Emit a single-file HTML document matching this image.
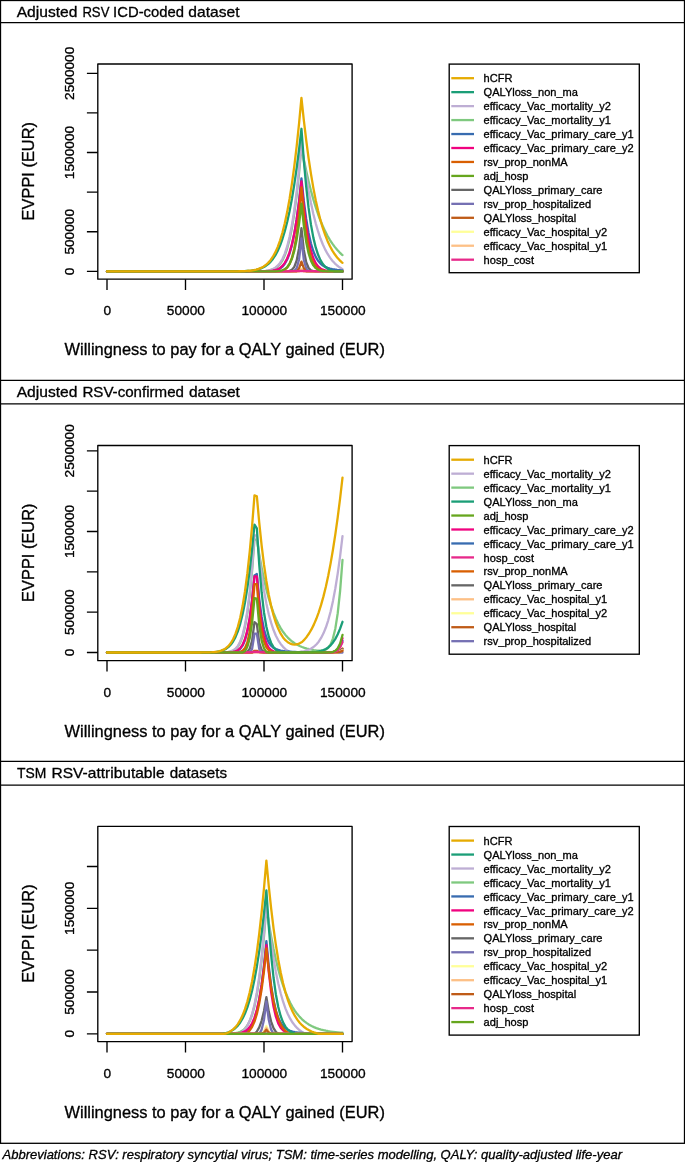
<!DOCTYPE html>
<html lang="en"><head><meta charset="utf-8"><title>EVPPI</title>
<style>html,body{margin:0;padding:0;background:#fff}body{width:685px;height:1162px;overflow:hidden;font-family:"Liberation Sans", sans-serif}svg{display:block;font-family:"Liberation Sans", sans-serif;will-change:transform;transform:translateZ(0)}text{fill:#000}.h{stroke:#000;stroke-width:.3px}.r text{stroke:#000;stroke-width:.32px;stroke-linejoin:round}</style>
</head><body>
<svg width="685" height="1162" viewBox="0 0 685 1162">
<rect width="685" height="1162" fill="#fff"/>
<text class="h" x="16.7" y="17" font-size="14.4" textLength="60.8" lengthAdjust="spacingAndGlyphs">Adjusted</text>
<text class="h" x="82.4" y="17" font-size="14.4" textLength="27" lengthAdjust="spacingAndGlyphs">RSV</text>
<text class="h" x="113.1" y="17" font-size="14.4" textLength="70.9" lengthAdjust="spacingAndGlyphs">ICD-coded</text>
<text class="h" x="188.3" y="17" font-size="14.4" textLength="51.2" lengthAdjust="spacingAndGlyphs">dataset</text>
<g fill="none" stroke-width="2.3" stroke-linejoin="round" stroke-linecap="round">
<path d="M107 271.4 L249.11 271.4 L251.49 271.39 L253.87 271.38 L256.25 271.36 L258.63 271.33 L261.01 271.27 L263.38 271.17 L265.76 270.99 L268.14 270.69 L270.52 270.21 L272.9 269.45 L275.28 268.29 L277.66 266.55 L280.04 264.01 L282.41 260.39 L284.79 255.37 L287.17 248.57 L289.55 239.57 L291.93 227.94 L294.31 213.25 L296.69 195.09 L299.07 173.1 L301.44 146.99 L303.82 159.44 L306.2 170.85 L308.58 181.28 L310.96 190.78 L313.34 199.4 L315.72 207.2 L318.1 214.25 L320.47 220.59 L322.85 226.29 L325.23 231.4 L327.61 235.96 L329.99 240.03 L332.37 243.66 L334.75 246.89 L337.13 249.76 L339.51 252.3 L341.88 254.56 L342.5 255.1" stroke="#7FC97F"/>
<path d="M107 271.4 L249.11 271.39 L251.49 271.39 L253.87 271.37 L256.25 271.35 L258.63 271.3 L261.01 271.22 L263.38 271.09 L265.76 270.87 L268.14 270.5 L270.52 269.93 L272.9 269.05 L275.28 267.72 L277.66 265.76 L280.04 262.96 L282.41 259.03 L284.79 253.66 L287.17 246.48 L289.55 237.08 L291.93 225.06 L294.31 210.01 L296.69 191.53 L299.07 169.29 L301.44 143.03 L303.82 160.78 L306.2 176.63 L308.58 190.69 L310.96 203.07 L313.34 213.91 L315.72 223.34 L318.1 231.49 L320.47 238.51 L322.85 244.52 L325.23 249.64 L327.61 253.99 L329.99 257.66 L332.37 260.75 L334.75 263.34 L337.13 265.51 L339.51 267.31 L341.88 268.81 L342.5 269.15" stroke="#BEAED4"/>
<path d="M107 271.4 L258.63 271.39 L261.01 271.39 L263.38 271.37 L265.76 271.33 L268.14 271.27 L270.52 271.13 L272.9 270.89 L275.28 270.47 L277.66 269.75 L280.04 268.56 L282.41 266.68 L284.79 263.8 L287.17 259.54 L289.55 253.47 L291.93 245.07 L294.31 233.82 L296.69 219.23 L299.07 200.83 L301.44 178.29 L303.82 200.95 L306.2 219.02 L308.58 233.02 L310.96 243.56 L313.34 251.3 L315.72 256.87 L318.1 260.82 L320.47 263.58 L322.85 265.52 L325.23 266.88 L327.61 267.85 L329.99 268.56 L332.37 269.09 L334.75 269.49 L337.13 269.81 L339.51 270.07 L341.88 270.28 L342.5 270.33" stroke="#386CB0"/>
<path d="M107 271.4 L256.25 271.39 L258.63 271.39 L261.01 271.37 L263.38 271.35 L265.76 271.29 L268.14 271.19 L270.52 271.02 L272.9 270.71 L275.28 270.18 L277.66 269.33 L280.04 267.98 L282.41 265.92 L284.79 262.87 L287.17 258.49 L289.55 252.39 L291.93 244.15 L294.31 233.33 L296.69 219.51 L299.07 202.31 L301.44 181.46 L303.82 206.4 L306.2 225.83 L308.58 240.4 L310.96 250.92 L313.34 258.27 L315.72 263.21 L318.1 266.43 L320.47 268.46 L322.85 269.7 L325.23 270.44 L327.61 270.87 L329.99 271.12 L332.37 271.25 L334.75 271.32 L337.13 271.36 L339.51 271.38 L341.88 271.39 L342.5 271.39" stroke="#F0027F"/>
<path d="M107 271.4 L268.14 271.4 L270.52 271.39 L272.9 271.38 L275.28 271.34 L277.66 271.25 L280.04 271.02 L282.41 270.53 L284.79 269.5 L287.17 267.53 L289.55 263.97 L291.93 257.95 L294.31 248.41 L296.69 234.18 L299.07 214.13 L301.44 187.41 L303.82 213.73 L306.2 233.41 L308.58 247.38 L310.96 256.83 L313.34 262.9 L315.72 266.64 L318.1 268.83 L320.47 270.06 L322.85 270.73 L325.23 271.07 L327.61 271.24 L329.99 271.33 L332.37 271.37 L334.75 271.39 L337.13 271.39 L342.5 271.4" stroke="#D95F02"/>
<path d="M107 271.4 L280.04 271.4 L282.41 271.39 L284.79 271.37 L287.17 271.27 L289.55 270.91 L291.93 269.78 L294.31 266.86 L296.69 260.42 L299.07 248.22 L301.44 228.21 L303.82 249.98 L306.2 262.21 L308.58 268.01 L310.96 270.33 L313.34 271.11 L315.72 271.33 L318.1 271.39 L320.47 271.4 L342.5 271.4" stroke="#666666"/>
<path d="M107 271.4 L287.17 271.4 L289.55 271.39 L291.93 271.33 L294.31 270.82 L296.69 268.24 L299.07 259.44 L301.44 238.44 L303.82 259.95 L306.2 268.51 L308.58 270.88 L310.96 271.33 L313.34 271.39 L315.72 271.4 L342.5 271.4" stroke="#7570B3"/>
<path d="M107 271.4 L296.69 271.4 L299.07 271.35 L301.44 268.63 L303.82 271.31 L306.2 271.4 L342.5 271.4" stroke="#FFFF99"/>
<path d="M107 271.4 L296.69 271.4 L299.07 271.36 L301.44 269.42 L303.82 271.34 L306.2 271.4 L342.5 271.4" stroke="#FDC086"/>
<path d="M107 271.4 L296.69 271.4 L299.07 268.4 L301.44 261.57 L303.82 268.22 L306.2 271.4 L342.5 271.4" stroke="#BF5B17"/>
<path d="M107 271.4 L270.52 271.39 L272.9 271.38 L275.28 271.38 L277.66 271.37 L280.04 271.35 L282.41 271.34 L284.79 271.31 L287.17 271.29 L289.55 271.25 L291.93 271.2 L294.31 271.15 L296.69 271.09 L299.07 271.01 L301.44 270.92 L303.82 271 L306.2 271.07 L308.58 271.13 L310.96 271.18 L313.34 271.22 L315.72 271.25 L318.1 271.28 L320.47 271.3 L322.85 271.32 L325.23 271.34 L327.61 271.35 L329.99 271.36 L332.37 271.37 L334.75 271.38 L337.13 271.38 L342.5 271.39" stroke="#E7298A"/>
<path d="M107 271.4 L225.32 271.39 L227.7 271.39 L230.08 271.38 L232.46 271.37 L234.84 271.35 L237.22 271.32 L239.6 271.28 L241.97 271.22 L244.35 271.13 L246.73 271.01 L249.11 270.84 L251.49 270.59 L253.87 270.26 L256.25 269.8 L258.63 269.19 L261.01 268.38 L263.38 267.3 L265.76 265.91 L268.14 264.11 L270.52 261.82 L272.9 258.94 L275.28 255.35 L277.66 250.93 L280.04 245.54 L282.41 239.03 L284.79 231.26 L287.17 222.06 L289.55 211.28 L291.93 198.77 L294.31 184.39 L296.69 168 L299.07 149.5 L301.44 128.77 L303.82 160.5 L306.2 186.71 L308.58 207.89 L310.96 224.63 L313.34 237.61 L315.72 247.46 L318.1 254.79 L320.47 260.16 L322.85 264.02 L325.23 266.75 L327.61 268.66 L329.99 269.97 L332.37 270.85 L334.75 271.4 L342.5 271.4" stroke="#1B9E77"/>
<path d="M107 271.4 L268.14 271.39 L270.52 271.39 L272.9 271.36 L275.28 271.3 L277.66 271.17 L280.04 270.88 L282.41 270.31 L284.79 269.22 L287.17 267.28 L289.55 264 L291.93 258.76 L294.31 250.83 L296.69 239.45 L299.07 223.91 L301.44 203.65 L303.82 225.68 L306.2 241.91 L308.58 253.23 L310.96 260.7 L313.34 265.37 L315.72 268.14 L318.1 269.71 L320.47 270.56 L322.85 271 L325.23 271.21 L327.61 271.32 L329.99 271.36 L332.37 271.38 L334.75 271.39 L342.5 271.4" stroke="#66A61E"/>
<path d="M107 271.4 L225.32 271.39 L227.7 271.39 L230.08 271.38 L232.46 271.36 L234.84 271.34 L237.22 271.31 L239.6 271.27 L241.97 271.2 L244.35 271.11 L246.73 270.97 L249.11 270.77 L251.49 270.49 L253.87 270.11 L256.25 269.58 L258.63 268.87 L261.01 267.92 L263.38 266.66 L265.76 265.01 L268.14 262.88 L270.52 260.16 L272.9 256.72 L275.28 252.42 L277.66 247.1 L280.04 240.59 L282.41 232.72 L284.79 223.29 L287.17 212.1 L289.55 198.96 L291.93 183.69 L294.31 166.1 L296.69 146.03 L299.07 123.32 L301.44 97.86 L303.82 120.15 L306.2 140.17 L308.58 158.03 L310.96 173.88 L313.34 187.87 L315.72 200.14 L318.1 210.86 L320.47 220.18 L322.85 228.24 L325.23 235.19 L327.61 241.15 L329.99 246.26 L332.37 250.6 L334.75 254.3 L337.13 257.43 L339.51 260.08 L341.88 262.31 L342.5 262.83" stroke="#E6AB02"/>
</g>
<g fill="none" stroke="#000" stroke-width="1.35" stroke-linejoin="round">
<rect x="97.8" y="64" width="254.3" height="215.15"/>
<path d="M107 279.15 V290.05 M185.5 279.15 V290.05 M264 279.15 V290.05 M342.5 279.15 V290.05 M97.8 271.4 H86.9 M97.8 231.78 H86.9 M97.8 192.16 H86.9 M97.8 152.54 H86.9 M97.8 112.92 H86.9 M97.8 73.3 H86.9"/>
</g>
<g class="r" font-size="13.7" text-anchor="middle">
<text x="107.35" y="315.3">0</text>
<text x="185.85" y="315.3">50000</text>
<text x="264.35" y="315.3">100000</text>
<text x="342.85" y="315.3">150000</text>
<text transform="translate(73.85 271.4) rotate(-90)">0</text>
<text transform="translate(73.85 231.78) rotate(-90)">500000</text>
<text transform="translate(73.85 152.54) rotate(-90)">1500000</text>
<text transform="translate(73.85 73.3) rotate(-90)">2500000</text>
</g>
<g class="r" font-size="16.42" text-anchor="middle">
<text x="224.7" y="355.1">Willingness to pay for a QALY gained (EUR)</text>
<text transform="translate(34.1 171.2) rotate(-90)">EVPPI (EUR)</text>
</g>
<rect x="449.2" y="64.1" width="190.1" height="208.6" fill="#fff" stroke="#000" stroke-width="1.35"/>
<g stroke-width="2.3" fill="none">
<path d="M451.3 78.2 H474" stroke="#E6AB02"/>
<path d="M451.3 92.16 H474" stroke="#1B9E77"/>
<path d="M451.3 106.12 H474" stroke="#BEAED4"/>
<path d="M451.3 120.08 H474" stroke="#7FC97F"/>
<path d="M451.3 134.04 H474" stroke="#386CB0"/>
<path d="M451.3 148 H474" stroke="#F0027F"/>
<path d="M451.3 161.96 H474" stroke="#D95F02"/>
<path d="M451.3 175.92 H474" stroke="#66A61E"/>
<path d="M451.3 189.88 H474" stroke="#666666"/>
<path d="M451.3 203.84 H474" stroke="#7570B3"/>
<path d="M451.3 217.8 H474" stroke="#BF5B17"/>
<path d="M451.3 231.76 H474" stroke="#FFFF99"/>
<path d="M451.3 245.72 H474" stroke="#FDC086"/>
<path d="M451.3 259.68 H474" stroke="#E7298A"/>
</g>
<g class="r" font-size="11.05">
<text x="483.6" y="82.3">hCFR</text>
<text x="483.6" y="96.26">QALYloss_non_ma</text>
<text x="483.6" y="110.22">efficacy_Vac_mortality_y2</text>
<text x="483.6" y="124.18">efficacy_Vac_mortality_y1</text>
<text x="483.6" y="138.14">efficacy_Vac_primary_care_y1</text>
<text x="483.6" y="152.1">efficacy_Vac_primary_care_y2</text>
<text x="483.6" y="166.06">rsv_prop_nonMA</text>
<text x="483.6" y="180.02">adj_hosp</text>
<text x="483.6" y="193.98">QALYloss_primary_care</text>
<text x="483.6" y="207.94">rsv_prop_hospitalized</text>
<text x="483.6" y="221.9">QALYloss_hospital</text>
<text x="483.6" y="235.86">efficacy_Vac_hospital_y2</text>
<text x="483.6" y="249.82">efficacy_Vac_hospital_y1</text>
<text x="483.6" y="263.78">hosp_cost</text>
</g>
<text class="h" x="16.7" y="396.8" font-size="14.4" textLength="60.8" lengthAdjust="spacingAndGlyphs">Adjusted</text>
<text class="h" x="82.4" y="396.8" font-size="14.4" textLength="101.6" lengthAdjust="spacingAndGlyphs">RSV-confirmed</text>
<text class="h" x="188.9" y="396.8" font-size="14.4" textLength="51" lengthAdjust="spacingAndGlyphs">dataset</text>
<g fill="none" stroke-width="2.3" stroke-linejoin="round" stroke-linecap="round">
<path d="M107 652.5 L214.05 652.5 L216.42 652.49 L218.8 652.48 L221.18 652.46 L223.56 652.4 L225.94 652.29 L228.32 652.05 L230.7 651.6 L233.08 650.75 L235.45 649.26 L237.83 646.74 L240.21 642.65 L242.59 636.32 L244.97 626.91 L247.35 613.47 L249.73 595.03 L252.11 570.65 L254.48 539.55 L256.86 539.55 L259.24 554.42 L261.62 567.62 L264 579.27 L266.38 589.5 L268.76 598.44 L271.14 606.22 L273.52 612.96 L275.89 618.78 L278.27 623.79 L280.65 628.09 L283.03 631.77 L285.41 634.91 L287.79 637.59 L290.17 639.87 L292.55 641.8 L294.92 643.44 L297.3 644.83 L299.68 646.01 L302.06 647 L304.44 647.85 L306.82 648.56 L309.2 649.16 L311.58 649.66 L313.95 650.08 L316.33 650.4 L318.71 650.61 L321.09 650.64 L323.47 650.37 L325.85 649.55 L328.23 647.75 L330.61 644.32 L332.98 638.3 L335.36 628.43 L337.74 613.19 L340.12 590.9 L342.5 559.97" stroke="#7FC97F"/>
<path d="M107 652.5 L214.05 652.5 L216.42 652.49 L218.8 652.47 L221.18 652.44 L223.56 652.37 L225.94 652.22 L228.32 651.93 L230.7 651.39 L233.08 650.41 L235.45 648.73 L237.83 645.94 L240.21 641.52 L242.59 634.77 L244.97 624.88 L247.35 610.94 L249.73 591.97 L252.11 567.09 L254.48 535.51 L256.86 535.51 L259.24 556.93 L261.62 575.21 L264 590.64 L266.38 603.52 L268.76 614.18 L271.14 622.92 L273.52 630.01 L275.89 635.74 L278.27 640.32 L280.65 643.96 L283.03 646.83 L285.41 649.08 L287.79 650.83 L290.17 652.18 L292.55 652.31 L294.92 652.21 L297.3 652.06 L299.68 651.84 L302.06 651.51 L304.44 651.05 L306.82 650.41 L309.2 649.51 L311.58 648.29 L313.95 646.66 L316.33 644.48 L318.71 641.65 L321.09 637.99 L323.47 633.35 L325.85 627.52 L328.23 620.31 L330.61 611.51 L332.98 600.89 L335.36 588.24 L337.74 573.35 L340.12 556.04 L342.5 536.13" stroke="#BEAED4"/>
<path d="M107 652.5 L221.18 652.5 L223.56 652.49 L225.94 652.48 L228.32 652.44 L230.7 652.34 L233.08 652.12 L235.45 651.65 L237.83 650.7 L240.21 648.89 L242.59 645.67 L244.97 640.26 L247.35 631.66 L249.73 618.76 L252.11 600.4 L254.48 575.58 L256.86 574.08 L259.24 599.05 L261.62 616.98 L264 629.26 L266.38 637.34 L268.76 642.5 L271.14 645.74 L273.52 647.77 L275.89 649.07 L278.27 649.92 L280.65 650.52 L283.03 650.94 L285.41 651.27 L287.79 651.52 L290.17 651.71 L292.55 651.87 L294.92 651.99 L297.3 652.09 L299.68 652.17 L302.06 652.24 L304.44 652.29 L306.82 652.33 L309.2 652.37 L311.58 652.39 L313.95 652.41 L316.33 652.43 L318.71 652.44 L321.09 652.46 L323.47 652.46 L325.85 652.46 L328.23 652.45 L330.61 652.37 L332.98 652.12 L335.36 651.45 L337.74 649.87 L340.12 646.62 L342.5 640.75" stroke="#386CB0"/>
<path d="M107 652.5 L221.18 652.49 L223.56 652.48 L225.94 652.46 L228.32 652.4 L230.7 652.26 L233.08 651.97 L235.45 651.37 L237.83 650.24 L240.21 648.19 L242.59 644.7 L244.97 639.04 L247.35 630.35 L249.73 617.65 L252.11 599.96 L254.48 576.42 L256.86 576.42 L259.24 604.17 L261.62 623.34 L264 635.77 L266.38 643.36 L268.76 647.74 L271.14 650.12 L273.52 651.36 L275.89 651.98 L278.27 652.27 L280.65 652.4 L283.03 652.46 L285.41 652.48 L287.79 652.49 L290.17 652.5 L323.47 652.5 L325.85 652.49 L328.23 652.46 L330.61 652.36 L332.98 652.06 L335.36 651.23 L337.74 649.28 L340.12 645.3 L342.5 638.11" stroke="#F0027F"/>
<path d="M107 652.5 L230.7 652.5 L233.08 652.49 L235.45 652.45 L237.83 652.31 L240.21 651.9 L242.59 650.79 L244.97 648.14 L247.35 642.49 L249.73 631.69 L252.11 613.11 L254.48 584.16 L256.86 584.16 L259.24 612.5 L261.62 630.69 L264 641.4 L266.38 647.23 L268.76 650.15 L271.14 651.51 L273.52 652.11 L275.89 652.35 L278.27 652.45 L280.65 652.48 L283.03 652.49 L285.41 652.5 L328.23 652.5 L330.61 652.48 L332.98 652.44 L335.36 652.27 L337.74 651.81 L340.12 650.7 L342.5 648.48" stroke="#D95F02"/>
<path d="M107 652.5 L240.21 652.5 L242.59 652.48 L244.97 652.34 L247.35 651.63 L249.73 648.84 L252.11 640.65 L254.48 622.08 L256.86 624.08 L259.24 642.78 L261.62 649.93 L264 651.98 L266.38 652.42 L268.76 652.49 L271.14 652.5 L328.23 652.5 L330.61 652.49 L332.98 652.45 L335.36 652.32 L337.74 651.94 L340.12 651.05 L342.5 649.26" stroke="#666666"/>
<path d="M107 652.5 L244.97 652.5 L247.35 652.48 L249.73 652.13 L252.11 648.94 L254.48 633.7 L256.86 633.7 L259.24 649.12 L261.62 652.16 L264 652.48 L266.38 652.5 L342.5 652.5" stroke="#7570B3"/>
<path d="M107 652.5 L252.11 652.5 L254.48 652.02 L256.86 652.02 L259.24 652.47 L261.62 652.5 L330.61 652.5 L332.98 652.48 L335.36 652.43 L337.74 652.24 L340.12 651.7 L342.5 650.48" stroke="#FFFF99"/>
<path d="M107 652.5 L252.11 652.5 L254.48 652.02 L256.86 652.02 L259.24 652.47 L261.62 652.5 L330.61 652.5 L332.98 652.48 L335.36 652.41 L337.74 652.18 L340.12 651.54 L342.5 650.08" stroke="#FDC086"/>
<path d="M107 652.5 L252.11 652.5 L254.48 650.81 L256.86 650.81 L259.24 652.07 L261.62 652.43 L264 652.49 L266.38 652.5 L330.61 652.5 L332.98 652.49 L335.36 652.44 L337.74 652.29 L340.12 651.86 L342.5 650.88" stroke="#BF5B17"/>
<path d="M107 652.5 L230.7 652.49 L233.08 652.48 L235.45 652.47 L237.83 652.46 L240.21 652.44 L242.59 652.41 L244.97 652.36 L247.35 652.3 L249.73 652.23 L252.11 652.13 L254.48 652.02 L256.86 652.02 L259.24 652.12 L261.62 652.2 L264 652.27 L266.38 652.33 L268.76 652.37 L271.14 652.4 L273.52 652.43 L275.89 652.45 L278.27 652.46 L280.65 652.47 L283.03 652.48 L285.41 652.49 L287.79 652.49 L323.47 652.5 L325.85 652.49 L328.23 652.47 L330.61 652.4 L332.98 652.18 L335.36 651.6 L337.74 650.22 L340.12 647.38 L342.5 642.27" stroke="#E7298A"/>
<path d="M107 652.5 L197.39 652.49 L199.77 652.48 L202.15 652.47 L204.53 652.45 L206.91 652.42 L209.29 652.35 L211.67 652.26 L214.05 652.1 L216.42 651.85 L218.8 651.48 L221.18 650.91 L223.56 650.07 L225.94 648.86 L228.32 647.14 L230.7 644.74 L233.08 641.47 L235.45 637.08 L237.83 631.31 L240.21 623.83 L242.59 614.33 L244.97 602.45 L247.35 587.85 L249.73 570.2 L252.11 549.19 L254.48 524.54 L256.86 528.34 L259.24 564.66 L261.62 592.24 L264 612.45 L266.38 626.74 L268.76 636.51 L271.14 643 L273.52 647.17 L275.89 649.8 L278.27 651.4 L280.65 652.36 L283.03 652.5 L297.3 652.49 L299.68 652.49 L302.06 652.48 L304.44 652.46 L306.82 652.42 L309.2 652.36 L311.58 652.27 L313.95 652.11 L316.33 651.87 L318.71 651.49 L321.09 650.94 L323.47 650.14 L325.85 649 L328.23 647.42 L330.61 645.29 L332.98 642.49 L335.36 638.86 L337.74 634.29 L340.12 628.64 L342.5 621.8" stroke="#1B9E77"/>
<path d="M107 652.5 L242.59 652.5 L244.97 651.21 L247.35 646.82 L249.73 638.12 L252.11 622.69 L254.48 598.12 L256.86 598.62 L259.24 625.03 L261.62 640.4 L264 648.34 L266.38 652 L268.76 652.5 L323.47 652.5 L325.85 652.49 L328.23 652.44 L330.61 652.3 L332.98 651.88 L335.36 650.8 L337.74 648.37 L340.12 643.53 L342.5 634.98" stroke="#66A61E"/>
<path d="M107 652.5 L195.02 652.5 L197.39 652.49 L199.77 652.48 L202.15 652.47 L204.53 652.45 L206.91 652.41 L209.29 652.34 L211.67 652.22 L214.05 652.04 L216.42 651.76 L218.8 651.31 L221.18 650.64 L223.56 649.65 L225.94 648.2 L228.32 646.13 L230.7 643.24 L233.08 639.27 L235.45 633.93 L237.83 626.88 L240.21 617.73 L242.59 606.07 L244.97 591.47 L247.35 573.49 L249.73 551.73 L252.11 525.8 L254.48 495.37 L256.86 496.26 L259.24 522.62 L261.62 545.32 L264 564.67 L266.38 581 L268.76 594.65 L271.14 605.97 L273.52 615.25 L275.89 622.79 L278.27 628.85 L280.65 633.65 L283.03 637.39 L285.41 640.21 L287.79 642.25 L290.17 643.61 L292.55 644.37 L294.92 644.56 L297.3 644.22 L299.68 643.36 L302.06 641.98 L304.44 639.61 L306.82 636.7 L309.2 633.24 L311.58 629.16 L313.95 624.38 L316.33 618.8 L318.71 612.34 L321.09 604.9 L323.47 596.39 L325.85 586.69 L328.23 575.71 L330.61 563.36 L332.98 549.52 L335.36 534.12 L337.74 517.06 L340.12 498.27 L342.5 477.66" stroke="#E6AB02"/>
</g>
<g fill="none" stroke="#000" stroke-width="1.35" stroke-linejoin="round">
<rect x="97.8" y="445.5" width="254.3" height="215.15"/>
<path d="M107 660.65 V671.55 M185.5 660.65 V671.55 M264 660.65 V671.55 M342.5 660.65 V671.55 M97.8 652.5 H86.9 M97.8 612.16 H86.9 M97.8 571.82 H86.9 M97.8 531.48 H86.9 M97.8 491.14 H86.9 M97.8 450.8 H86.9"/>
</g>
<g class="r" font-size="13.7" text-anchor="middle">
<text x="107.35" y="696.8">0</text>
<text x="185.85" y="696.8">50000</text>
<text x="264.35" y="696.8">100000</text>
<text x="342.85" y="696.8">150000</text>
<text transform="translate(73.85 652.5) rotate(-90)">0</text>
<text transform="translate(73.85 612.16) rotate(-90)">500000</text>
<text transform="translate(73.85 531.48) rotate(-90)">1500000</text>
<text transform="translate(73.85 450.8) rotate(-90)">2500000</text>
</g>
<g class="r" font-size="16.42" text-anchor="middle">
<text x="224.7" y="736.6">Willingness to pay for a QALY gained (EUR)</text>
<text transform="translate(34.1 552.7) rotate(-90)">EVPPI (EUR)</text>
</g>
<rect x="449.2" y="445.6" width="190.1" height="208.6" fill="#fff" stroke="#000" stroke-width="1.35"/>
<g stroke-width="2.3" fill="none">
<path d="M451.3 459.7 H474" stroke="#E6AB02"/>
<path d="M451.3 473.66 H474" stroke="#BEAED4"/>
<path d="M451.3 487.62 H474" stroke="#7FC97F"/>
<path d="M451.3 501.58 H474" stroke="#1B9E77"/>
<path d="M451.3 515.54 H474" stroke="#66A61E"/>
<path d="M451.3 529.5 H474" stroke="#F0027F"/>
<path d="M451.3 543.46 H474" stroke="#386CB0"/>
<path d="M451.3 557.42 H474" stroke="#E7298A"/>
<path d="M451.3 571.38 H474" stroke="#D95F02"/>
<path d="M451.3 585.34 H474" stroke="#666666"/>
<path d="M451.3 599.3 H474" stroke="#FDC086"/>
<path d="M451.3 613.26 H474" stroke="#FFFF99"/>
<path d="M451.3 627.22 H474" stroke="#BF5B17"/>
<path d="M451.3 641.18 H474" stroke="#7570B3"/>
</g>
<g class="r" font-size="11.05">
<text x="483.6" y="463.8">hCFR</text>
<text x="483.6" y="477.76">efficacy_Vac_mortality_y2</text>
<text x="483.6" y="491.72">efficacy_Vac_mortality_y1</text>
<text x="483.6" y="505.68">QALYloss_non_ma</text>
<text x="483.6" y="519.64">adj_hosp</text>
<text x="483.6" y="533.6">efficacy_Vac_primary_care_y2</text>
<text x="483.6" y="547.56">efficacy_Vac_primary_care_y1</text>
<text x="483.6" y="561.52">hosp_cost</text>
<text x="483.6" y="575.48">rsv_prop_nonMA</text>
<text x="483.6" y="589.44">QALYloss_primary_care</text>
<text x="483.6" y="603.4">efficacy_Vac_hospital_y1</text>
<text x="483.6" y="617.36">efficacy_Vac_hospital_y2</text>
<text x="483.6" y="631.32">QALYloss_hospital</text>
<text x="483.6" y="645.28">rsv_prop_hospitalized</text>
</g>
<text class="h" x="17.1" y="778.3" font-size="14.4" textLength="29.3" lengthAdjust="spacingAndGlyphs">TSM</text>
<text class="h" x="51.5" y="778.3" font-size="14.4" textLength="113.1" lengthAdjust="spacingAndGlyphs">RSV-attributable</text>
<text class="h" x="169.7" y="778.3" font-size="14.4" textLength="57.3" lengthAdjust="spacingAndGlyphs">datasets</text>
<g fill="none" stroke-width="2.3" stroke-linejoin="round" stroke-linecap="round">
<path d="M107 1033.8 L218.8 1033.79 L221.18 1033.79 L223.56 1033.78 L225.94 1033.75 L228.32 1033.7 L230.7 1033.61 L233.08 1033.45 L235.45 1033.16 L237.83 1032.66 L240.21 1031.85 L242.59 1030.55 L244.97 1028.53 L247.35 1025.49 L249.73 1021.06 L252.11 1014.77 L254.48 1006.11 L256.86 994.5 L259.24 979.37 L261.62 960.14 L264 936.32 L266.38 907.5 L268.76 922.77 L271.14 936.5 L273.52 948.78 L275.89 959.7 L278.27 969.38 L280.65 977.92 L283.03 985.42 L285.41 992 L287.79 997.73 L290.17 1002.73 L292.55 1007.07 L294.92 1010.82 L297.3 1014.07 L299.68 1016.87 L302.06 1019.28 L304.44 1021.36 L306.82 1023.14 L309.2 1024.67 L311.58 1025.98 L313.95 1027.1 L316.33 1028.06 L318.71 1028.89 L321.09 1029.59 L323.47 1030.19 L325.85 1030.71 L328.23 1031.15 L330.61 1031.52 L332.98 1031.84 L335.36 1032.12 L337.74 1032.35 L340.12 1032.56 L342.5 1032.73" stroke="#7FC97F"/>
<path d="M107 1033.8 L237.83 1033.8 L240.21 1033.24 L242.59 1031.66 L244.97 1029.29 L247.35 1025.82 L249.73 1020.86 L252.11 1013.98 L254.48 1004.67 L256.86 992.4 L259.24 976.63 L261.62 956.81 L264 932.5 L266.38 903.32 L268.76 924.22 L271.14 942.49 L273.52 958.32 L275.89 971.91 L278.27 983.49 L280.65 993.28 L283.03 1001.49 L285.41 1008.34 L287.79 1014.02 L290.17 1018.69 L292.55 1022.53 L294.92 1025.66 L297.3 1028.2 L299.68 1030.26 L302.06 1031.92 L304.44 1033.26 L306.82 1033.8 L342.5 1033.8" stroke="#BEAED4"/>
<path d="M107 1033.8 L225.94 1033.8 L228.32 1033.79 L230.7 1033.78 L233.08 1033.75 L235.45 1033.69 L237.83 1033.56 L240.21 1033.32 L242.59 1032.86 L244.97 1032.04 L247.35 1030.63 L249.73 1028.31 L252.11 1024.67 L254.48 1019.17 L256.86 1011.17 L259.24 1000.01 L261.62 985 L264 965.5 L266.38 941.04 L268.76 966.25 L271.14 985.69 L273.52 1000.15 L275.89 1010.54 L278.27 1017.8 L280.65 1022.76 L283.03 1026.09 L285.41 1028.32 L287.79 1029.81 L290.17 1030.82 L292.55 1031.53 L294.92 1032.03 L297.3 1032.4 L299.68 1032.68 L302.06 1032.9 L304.44 1033.07 L306.82 1033.21 L309.2 1033.32 L311.58 1033.41 L313.95 1033.48 L316.33 1033.54 L318.71 1033.59 L321.09 1033.63 L323.47 1033.66 L325.85 1033.69 L328.23 1033.71 L330.61 1033.73 L332.98 1033.74 L335.36 1033.75 L337.74 1033.76 L340.12 1033.77 L342.5 1033.77" stroke="#386CB0"/>
<path d="M107 1033.8 L223.56 1033.8 L225.94 1033.79 L228.32 1033.78 L230.7 1033.75 L233.08 1033.7 L235.45 1033.6 L237.83 1033.4 L240.21 1033.05 L242.59 1032.43 L244.97 1031.4 L247.35 1029.74 L249.73 1027.15 L252.11 1023.26 L254.48 1017.62 L256.86 1009.72 L259.24 999.03 L261.62 985 L264 967.16 L266.38 945.14 L268.76 971.84 L271.14 992.01 L273.52 1006.59 L275.89 1016.67 L278.27 1023.37 L280.65 1027.64 L283.03 1030.27 L285.41 1031.83 L287.79 1032.73 L290.17 1033.23 L292.55 1033.51 L294.92 1033.65 L297.3 1033.73 L299.68 1033.76 L302.06 1033.78 L304.44 1033.79 L306.82 1033.8 L342.5 1033.8" stroke="#F0027F"/>
<path d="M107 1033.8 L244.97 1033.8 L247.35 1032.72 L249.73 1030.42 L252.11 1026.86 L254.48 1021.55 L256.86 1013.92 L259.24 1003.37 L261.62 989.28 L264 971.1 L266.38 948.4 L268.76 970.19 L271.14 987.63 L273.52 1001.19 L275.89 1011.46 L278.27 1019.03 L280.65 1024.48 L283.03 1028.32 L285.41 1030.96 L287.79 1032.74 L290.17 1033.8 L342.5 1033.8" stroke="#D95F02"/>
<path d="M107 1033.8 L254.48 1033.8 L256.86 1031.52 L259.24 1027.42 L261.62 1020.81 L264 1010.91 L266.38 997.08 L268.76 1011.59 L271.14 1021.63 L273.52 1028.07 L275.89 1031.92 L278.27 1033.8 L342.5 1033.8" stroke="#666666"/>
<path d="M107 1033.8 L259.24 1033.8 L261.62 1029.7 L264 1019.67 L266.38 1001.51 L268.76 1019.75 L271.14 1029.66 L273.52 1033.8 L342.5 1033.8" stroke="#7570B3"/>
<path d="M107 1033.8 L261.62 1033.8 L264 1031.79 L266.38 1026.02 L268.76 1031.63 L271.14 1033.8 L342.5 1033.8" stroke="#FFFF99"/>
<path d="M107 1033.8 L261.62 1033.8 L264 1032.24 L266.38 1027.78 L268.76 1032.12 L271.14 1033.8 L342.5 1033.8" stroke="#FDC086"/>
<path d="M107 1033.8 L261.62 1033.8 L264 1032.74 L266.38 1029.7 L268.76 1032.65 L271.14 1033.8 L342.5 1033.8" stroke="#BF5B17"/>
<path d="M107 1033.8 L242.59 1033.79 L244.97 1033.79 L247.35 1033.78 L249.73 1033.77 L252.11 1033.76 L254.48 1033.74 L256.86 1033.72 L259.24 1033.69 L261.62 1033.65 L264 1033.6 L266.38 1033.55 L268.76 1033.6 L271.14 1033.64 L273.52 1033.67 L275.89 1033.7 L278.27 1033.72 L280.65 1033.74 L283.03 1033.76 L285.41 1033.77 L287.79 1033.78 L290.17 1033.78 L292.55 1033.79 L342.5 1033.8" stroke="#E7298A"/>
<path d="M107 1033.8 L221.18 1033.8 L223.56 1033.67 L225.94 1033.11 L228.32 1032.34 L230.7 1031.29 L233.08 1029.88 L235.45 1028.02 L237.83 1025.59 L240.21 1022.47 L242.59 1018.49 L244.97 1013.49 L247.35 1007.29 L249.73 999.69 L252.11 990.49 L254.48 979.47 L256.86 966.44 L259.24 951.19 L261.62 933.53 L264 913.3 L266.38 890.36 L268.76 926.33 L271.14 955.11 L273.52 977.5 L275.89 994.45 L278.27 1006.96 L280.65 1015.96 L283.03 1022.29 L285.41 1026.65 L287.79 1029.59 L290.17 1031.54 L292.55 1032.81 L294.92 1033.62 L297.3 1033.8 L342.5 1033.8" stroke="#1B9E77"/>
<path d="M107 1033.8 L249.73 1033.79 L252.11 1033.79 L254.48 1033.78 L256.86 1033.77 L259.24 1033.76 L261.62 1033.75 L264 1033.73 L266.38 1033.72 L268.76 1033.73 L271.14 1033.75 L273.52 1033.76 L275.89 1033.77 L278.27 1033.77 L280.65 1033.78 L283.03 1033.79 L342.5 1033.8" stroke="#66A61E"/>
<path d="M107 1033.8 L223.56 1033.8 L225.94 1033.51 L228.32 1032.52 L230.7 1031.2 L233.08 1029.43 L235.45 1027.11 L237.83 1024.09 L240.21 1020.21 L242.59 1015.31 L244.97 1009.18 L247.35 1001.59 L249.73 992.33 L252.11 981.15 L254.48 967.81 L256.86 952.06 L259.24 933.66 L261.62 912.41 L264 888.11 L266.38 860.58 L268.76 886 L271.14 908.42 L273.52 928.03 L275.89 945.05 L278.27 959.74 L280.65 972.31 L283.03 983.03 L285.41 992.1 L287.79 999.74 L290.17 1006.15 L292.55 1011.5 L294.92 1015.96 L297.3 1019.65 L299.68 1022.69 L302.06 1025.21 L304.44 1027.27 L306.82 1028.96 L309.2 1030.35 L311.58 1031.48 L313.95 1032.41 L316.33 1033.16 L318.71 1033.77 L321.09 1033.8 L342.5 1033.8" stroke="#E6AB02"/>
</g>
<g fill="none" stroke="#000" stroke-width="1.35" stroke-linejoin="round">
<rect x="97.8" y="826.4" width="254.3" height="215.15"/>
<path d="M107 1041.55 V1052.45 M185.5 1041.55 V1052.45 M264 1041.55 V1052.45 M342.5 1041.55 V1052.45 M97.8 1033.8 H86.9 M97.8 991.98 H86.9 M97.8 950.16 H86.9 M97.8 908.34 H86.9 M97.8 866.52 H86.9"/>
</g>
<g class="r" font-size="13.7" text-anchor="middle">
<text x="107.35" y="1077.7">0</text>
<text x="185.85" y="1077.7">50000</text>
<text x="264.35" y="1077.7">100000</text>
<text x="342.85" y="1077.7">150000</text>
<text transform="translate(73.85 1033.8) rotate(-90)">0</text>
<text transform="translate(73.85 991.98) rotate(-90)">500000</text>
<text transform="translate(73.85 908.34) rotate(-90)">1500000</text>
</g>
<g class="r" font-size="16.42" text-anchor="middle">
<text x="224.7" y="1117.5">Willingness to pay for a QALY gained (EUR)</text>
<text transform="translate(34.1 933.6) rotate(-90)">EVPPI (EUR)</text>
</g>
<rect x="449.2" y="826.5" width="190.1" height="208.6" fill="#fff" stroke="#000" stroke-width="1.35"/>
<g stroke-width="2.3" fill="none">
<path d="M451.3 840.6 H474" stroke="#E6AB02"/>
<path d="M451.3 854.56 H474" stroke="#1B9E77"/>
<path d="M451.3 868.52 H474" stroke="#BEAED4"/>
<path d="M451.3 882.48 H474" stroke="#7FC97F"/>
<path d="M451.3 896.44 H474" stroke="#386CB0"/>
<path d="M451.3 910.4 H474" stroke="#F0027F"/>
<path d="M451.3 924.36 H474" stroke="#D95F02"/>
<path d="M451.3 938.32 H474" stroke="#666666"/>
<path d="M451.3 952.28 H474" stroke="#7570B3"/>
<path d="M451.3 966.24 H474" stroke="#FFFF99"/>
<path d="M451.3 980.2 H474" stroke="#FDC086"/>
<path d="M451.3 994.16 H474" stroke="#BF5B17"/>
<path d="M451.3 1008.12 H474" stroke="#E7298A"/>
<path d="M451.3 1022.08 H474" stroke="#66A61E"/>
</g>
<g class="r" font-size="11.05">
<text x="483.6" y="844.7">hCFR</text>
<text x="483.6" y="858.66">QALYloss_non_ma</text>
<text x="483.6" y="872.62">efficacy_Vac_mortality_y2</text>
<text x="483.6" y="886.58">efficacy_Vac_mortality_y1</text>
<text x="483.6" y="900.54">efficacy_Vac_primary_care_y1</text>
<text x="483.6" y="914.5">efficacy_Vac_primary_care_y2</text>
<text x="483.6" y="928.46">rsv_prop_nonMA</text>
<text x="483.6" y="942.42">QALYloss_primary_care</text>
<text x="483.6" y="956.38">rsv_prop_hospitalized</text>
<text x="483.6" y="970.34">efficacy_Vac_hospital_y2</text>
<text x="483.6" y="984.3">efficacy_Vac_hospital_y1</text>
<text x="483.6" y="998.26">QALYloss_hospital</text>
<text x="483.6" y="1012.22">hosp_cost</text>
<text x="483.6" y="1026.18">adj_hosp</text>
</g>
<g fill="none" stroke="#000" stroke-width="1.3">
<rect x="0.5" y="0.5" width="684" height="1142.8"/>
<path d="M0 22.6 H685 M0 380.4 H685 M0 403.8 H685 M0 761.3 H685 M0 785.2 H685"/>
</g>
<text class="h" x="2.5" y="1158.7" font-size="13" font-style="italic" textLength="619.5" lengthAdjust="spacingAndGlyphs">Abbreviations: RSV: respiratory syncytial virus; TSM: time-series modelling, QALY: quality-adjusted life-year</text>
</svg></body></html>
